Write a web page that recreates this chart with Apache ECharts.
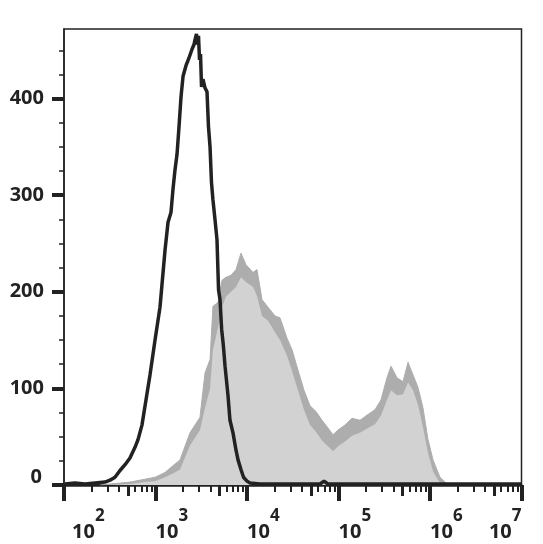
<!DOCTYPE html>
<html><head><meta charset="utf-8">
<script src="https://cdn.jsdelivr.net/npm/echarts@6/dist/echarts.min.js"></script>
<style>html,body{margin:0;padding:0;background:#fff}#c{width:543px;height:544px}</style>
</head><body><div id="c"></div>
<script>
// x values are log10 of fluorescence intensity (decade exponents)
const xDecades = [2, 3, 4, 5, 6, 7];
const yTicks = [0, 100, 200, 300, 400];

const blackLogX = [2.011,2.12,2.23,2.339,2.448,2.503,2.557,2.612,2.667,2.721,2.776,2.809,2.852,2.896,2.94,2.995,3.049,3.104,3.137,3.169,3.191,3.213,3.235,3.257,3.279,3.301,3.333,3.366,3.399,3.421,3.432,3.448,3.459,3.47,3.481,3.492,3.503,3.519,3.541,3.563,3.579,3.596,3.612,3.628,3.65,3.672,3.689,3.705,3.723,3.741,3.76,3.792,3.814,3.847,3.88,3.902,3.934,3.962,4.0,4.033,4.142,4.579,4.798,4.842,4.885,5.016,5.672,6.328,6.995];
const blackCount = [1,2,1,2,3,5,8,15,21,28,39,47,62,88,114,150,184,243,272,282,306,326,342,371,402,423,434,442,451,456,461,467,456,465,440,446,412,420,411,407,371,350,313,295,275,254,202,192,161,145,123,93,67,54,36,26,16,8,4,2,1,1,1,4,1,1,1,1,1];

const grayLogX = [2.393,2.503,2.721,2.885,2.995,3.104,3.191,3.268,3.377,3.486,3.541,3.596,3.628,3.683,3.727,3.770,3.825,3.880,3.934,3.989,4.066,4.109,4.164,4.230,4.306,4.361,4.437,4.492,4.557,4.623,4.689,4.754,4.820,4.885,4.940,4.995,5.071,5.148,5.235,5.322,5.399,5.464,5.530,5.574,5.639,5.705,5.760,5.814,5.869,5.923,5.978,6.033,6.109,6.186,6.273];
const grayUpper = [0,1,3,6,8,13,20,26,54,70,116,130,185,189,212,215,217,223,240,228,220,223,192,184,175,173,152,140,119,98,82,76,67,59,52,57,62,69,67,73,78,88,111,123,111,107,127,114,101,80,47,26,8,1,0];
const grayLower = [0,0,1,3,4,8,12,16,41,57,80,100,140,163,184,195,200,205,215,210,205,196,175,170,158,150,134,118,98,78,62,55,46,40,35,40,45,51,54,59,63,72,88,98,93,94,106,98,83,60,33,14,2,0,0];

const FONT = 'Noto Sans';
const INK = '#222222';

const zip = (xs, ys) => xs.map((x, i) => [x, ys[i]]);
const minorX = [], mediumX = [];
for (let d = xDecades[0]; d < xDecades[xDecades.length - 1]; d++) {
  for (let k = 2; k <= 9; k++) {
    const v = d + Math.log10(k);
    if (k === 5) mediumX.push(v); else minorX.push(v);
  }
}
const minorY = [];
for (let v = 25; v <= 450; v += 25) if (v % 100 !== 0) minorY.push(v);

const xMin = xDecades[0], xMax = xDecades[xDecades.length - 1];
const yMax = 472;

const chart = echarts.init(document.getElementById('c'), null, {renderer: 'canvas'});
const baseX = {
  type: 'value', min: xMin, max: xMax, position: 'bottom', gridIndex: 0,
  splitLine: {show: false}
};
const baseTok = {fontFamily: FONT, fontSize: 20, fontWeight: 'bold', color: INK, lineHeight: 20, verticalAlign: 'top'};
chart.setOption({
  animation: false,
  grid: {left: 64, right: 21.5, top: 29, bottom: 59, show: true, borderColor: INK, borderWidth: 1.5,
         containLabel: false, outerBoundsMode: 'none'},
  xAxis: [
    Object.assign({}, baseX, {
      interval: 1,
      axisLine: {show: true, lineStyle: {color: INK, width: 2.5}},
      axisTick: {show: true, length: 16, lineStyle: {color: INK, width: 4}},
      axisLabel: {
        show: true, margin: 23, align: 'left', alignMaxLabel: 'right',
        formatter: function (v) {
          const e = Math.round(v);
          return '{' + (e === xMin ? 'b0' : 'b') + '|10}{s|' + e + '}';
        },
        rich: {
          b: Object.assign({}, baseTok, {padding: [14, 0, 0, 0]}),
          b0: Object.assign({}, baseTok, {padding: [14, 0, 0, 8]}),
          s: {fontFamily: FONT, fontSize: 17, fontWeight: 'bold', color: INK, lineHeight: 17, verticalAlign: 'top'}
        }
      }
    }),
    Object.assign({}, baseX, {
      axisLine: {show: false},
      axisTick: {show: true, customValues: minorX, length: 7, lineStyle: {color: INK, width: 2}},
      axisLabel: {show: false}
    }),
    Object.assign({}, baseX, {
      axisLine: {show: false},
      axisTick: {show: true, customValues: mediumX, length: 11, lineStyle: {color: INK, width: 3}},
      axisLabel: {show: false}
    })
  ],
  yAxis: [
    {
      type: 'value', min: 0, max: yMax, position: 'left',
      splitLine: {show: false},
      axisLine: {show: true, lineStyle: {color: INK, width: 1.5}},
      axisTick: {show: true, customValues: yTicks, length: 12, lineStyle: {color: INK, width: 4}},
      axisLabel: {
        show: true, customValues: yTicks, margin: 20,
        fontFamily: FONT, fontSize: 20, fontWeight: 'bold', color: INK,
        formatter: function (v) { return v === 0 ? '{z|0}' : String(v); },
        rich: {z: {fontFamily: FONT, fontSize: 20, fontWeight: 'bold', color: INK, lineHeight: 22, padding: [0, 2, 16, 0]}}
      }
    },
    {
      type: 'value', min: 0, max: yMax, position: 'left',
      splitLine: {show: false},
      axisLine: {show: false},
      axisTick: {show: true, customValues: minorY, length: 5, lineStyle: {color: INK, width: 1.5}},
      axisLabel: {show: false}
    }
  ],
  series: [
    {
      type: 'line', xAxisIndex: 0, yAxisIndex: 0, data: zip(grayLogX, grayUpper),
      showSymbol: false, smooth: false, z: 2,
      lineStyle: {color: '#adadad', width: 1},
      areaStyle: {color: '#adadad', opacity: 1}
    },
    {
      type: 'line', xAxisIndex: 0, yAxisIndex: 0, data: zip(grayLogX, grayLower),
      showSymbol: false, smooth: false, z: 3,
      lineStyle: {width: 0, color: '#d2d2d2'},
      areaStyle: {color: '#d2d2d2', opacity: 1}
    },
    {
      type: 'line', xAxisIndex: 0, yAxisIndex: 0, data: zip(blackLogX, blackCount),
      showSymbol: false, smooth: false, z: 4,
      lineStyle: {color: INK, width: 3.5}
    }
  ]
});
</script>
</body></html>
